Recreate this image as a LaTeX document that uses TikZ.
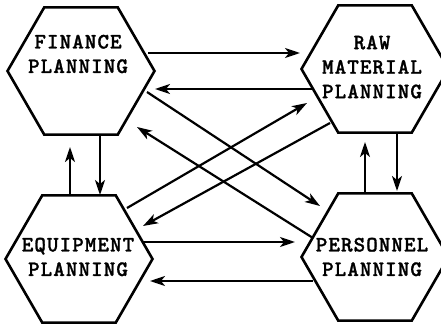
\documentclass[tikz,border=0pt]{standalone}
\usepackage{fontspec}
\newfontfamily\typew[LetterSpace=4.8,FakeBold=1.2]{lmmonolt10-bold.otf}
\usetikzlibrary{shapes.geometric,arrows.meta,calc}
\begin{document}
\begin{tikzpicture}[x=1pt,y=-1pt,
  hex/.style={regular polygon, regular polygon sides=6, minimum size=147pt,
    inner sep=0pt, draw, line width=2.6pt},
  lbl/.style={font=\typew\fontsize{22}{24.5}\selectfont,
    align=center, inner sep=0pt},
  arr/.style={line width=2.2pt, -{Stealth[length=15pt,width=10pt,inset=4pt]}}]
\useasboundingbox (0,0) rectangle (441,326);
\clip (0,0) rectangle (441,326);

% the four planning areas
\node[hex] (fin) at (81,71) {};
\node[hex] (raw) at (375,69) {};
\node[hex] (equ) at (79,259) {};
\node[hex] (per) at (375,257) {};

\node[lbl] (finT) at (78,54) {FINANCE\\PLANNING};
\node[lbl] (rawT) at (372,67) {RAW\\MATERIAL\\PLANNING};
\node[lbl] (equT) at (78,257) {EQUIPMENT\\PLANNING};
\node[lbl] (perT) at (372,257) {PERSONNEL\\PLANNING};

% top pair
\draw[arr] ($(fin)+(67,-18)$) -- ($(raw)+(-75,-16)$);
\draw[arr] ($(raw)+(-62,20)$) -- ($(fin)+(74,18)$);
% bottom pair
\draw[arr] ($(equ)+(63,-17)$) -- ($(per)+(-80,-15)$);
\draw[arr] ($(per)+(-62,24)$) -- ($(equ)+(71,22)$);
% left pair
\draw[arr] ($(fin)+(19,64)$) -- ($(equ)+(21,-64)$);
\draw[arr] ($(equ)+(-9,-63)$) -- ($(fin)+(-11,76)$);
% right pair
\draw[arr] ($(raw)+(22,63)$) -- ($(per)+(22,-66)$);
\draw[arr] ($(per)+(-10,-63)$) -- ($(raw)+(-10,73)$);
% diagonals
\draw[arr] ($(fin)+(66,21)$) -- ($(per)+(-55,-51)$);
\draw[arr] ($(per)+(-62,-19)$) -- ($(fin)+(56,56)$);
\draw[arr] ($(equ)+(48,-51)$) -- ($(raw)+(-68,34)$);
\draw[arr] ($(raw)+(-45,54)$) -- ($(equ)+(64,-33)$);
\end{tikzpicture}
\end{document}
